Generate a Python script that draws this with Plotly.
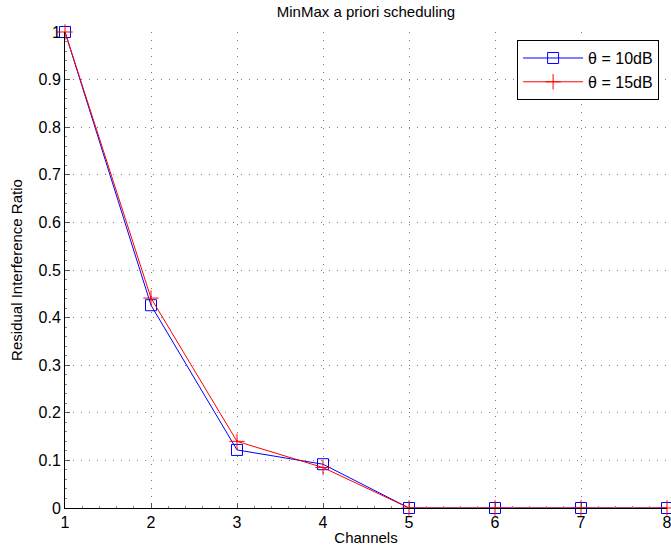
import plotly.graph_objects as go

channels = [1, 2, 3, 4, 5, 6, 7, 8]
ratio_10db = [1.0, 0.426, 0.122, 0.092, 0.0, 0.0, 0.0, 0.0]
ratio_15db = [1.0, 0.441, 0.140, 0.085, 0.0, 0.0, 0.0, 0.0]
x_ticks = [1, 2, 3, 4, 5, 6, 7, 8]
y_ticks = [0, 0.1, 0.2, 0.3, 0.4, 0.5, 0.6, 0.7, 0.8, 0.9, 1]
y_tick_labels = ["0", "0.1", "0.2", "0.3", "0.4", "0.5", "0.6", "0.7", "0.8", "0.9", "1"]

fig = go.Figure()
fig.add_trace(go.Scatter(
    x=channels, y=ratio_10db, mode="lines+markers", name="θ = 10dB",
    line=dict(color="#0000ff", width=1),
    marker=dict(symbol="square-open", size=11, color="#0000ff", line=dict(width=1)),
    cliponaxis=False,
))
fig.add_trace(go.Scatter(
    x=channels, y=ratio_15db, mode="lines+markers", name="θ = 15dB",
    line=dict(color="#ff0000", width=1),
    marker=dict(symbol="cross-thin-open", size=11, color="#ff0000", line=dict(width=1, color="#ff0000")),
    cliponaxis=False,
))

axis_common = dict(
    showline=True, linecolor="black", linewidth=1, mirror=False,
    ticks="inside", ticklen=5, tickcolor="#555", zeroline=False,
    showgrid=True, gridcolor="#777", griddash="1px,7px", gridwidth=1,
    tickfont=dict(family="Liberation Sans, Arial, sans-serif", size=16, color="black"),
    ticklabeloverflow="allow", automargin=False,
)

fig.update_xaxes(
    range=[1, 8], tickvals=x_ticks, ticktext=[str(t) for t in x_ticks],
    title=dict(text="Channels", font=dict(size=15), standoff=2),
    minor=dict(dtick=0.2, ticks="inside", ticklen=2, tickcolor="#888", showgrid=False),
    **axis_common,
)
fig.update_yaxes(
    range=[0, 1], tickvals=y_ticks, ticktext=y_tick_labels,
    title=dict(text="Residual Interference Ratio", font=dict(size=15), standoff=12),
    minor=dict(dtick=0.02, ticks="inside", ticklen=2, tickcolor="#888", showgrid=False),
    **axis_common,
)

fig.update_layout(
    width=671, height=554,
    margin=dict(l=65, r=4, t=32, b=46),
    paper_bgcolor="white", plot_bgcolor="white",
    font=dict(family="Liberation Sans, Arial, sans-serif", size=15, color="black"),
    title=dict(text="MinMax a priori scheduling", x=(65 + 602 / 2) / 671, xanchor="center",
               y=1 - 12 / 554, yanchor="middle", font=dict(size=15)),
    legend=dict(x=0.751, y=0.983, xanchor="left", yanchor="top",
                bgcolor="white", bordercolor="black", borderwidth=1,
                font=dict(size=16), tracegroupgap=0, itemwidth=60),
    showlegend=True,
)

fig.write_html("out.html")
